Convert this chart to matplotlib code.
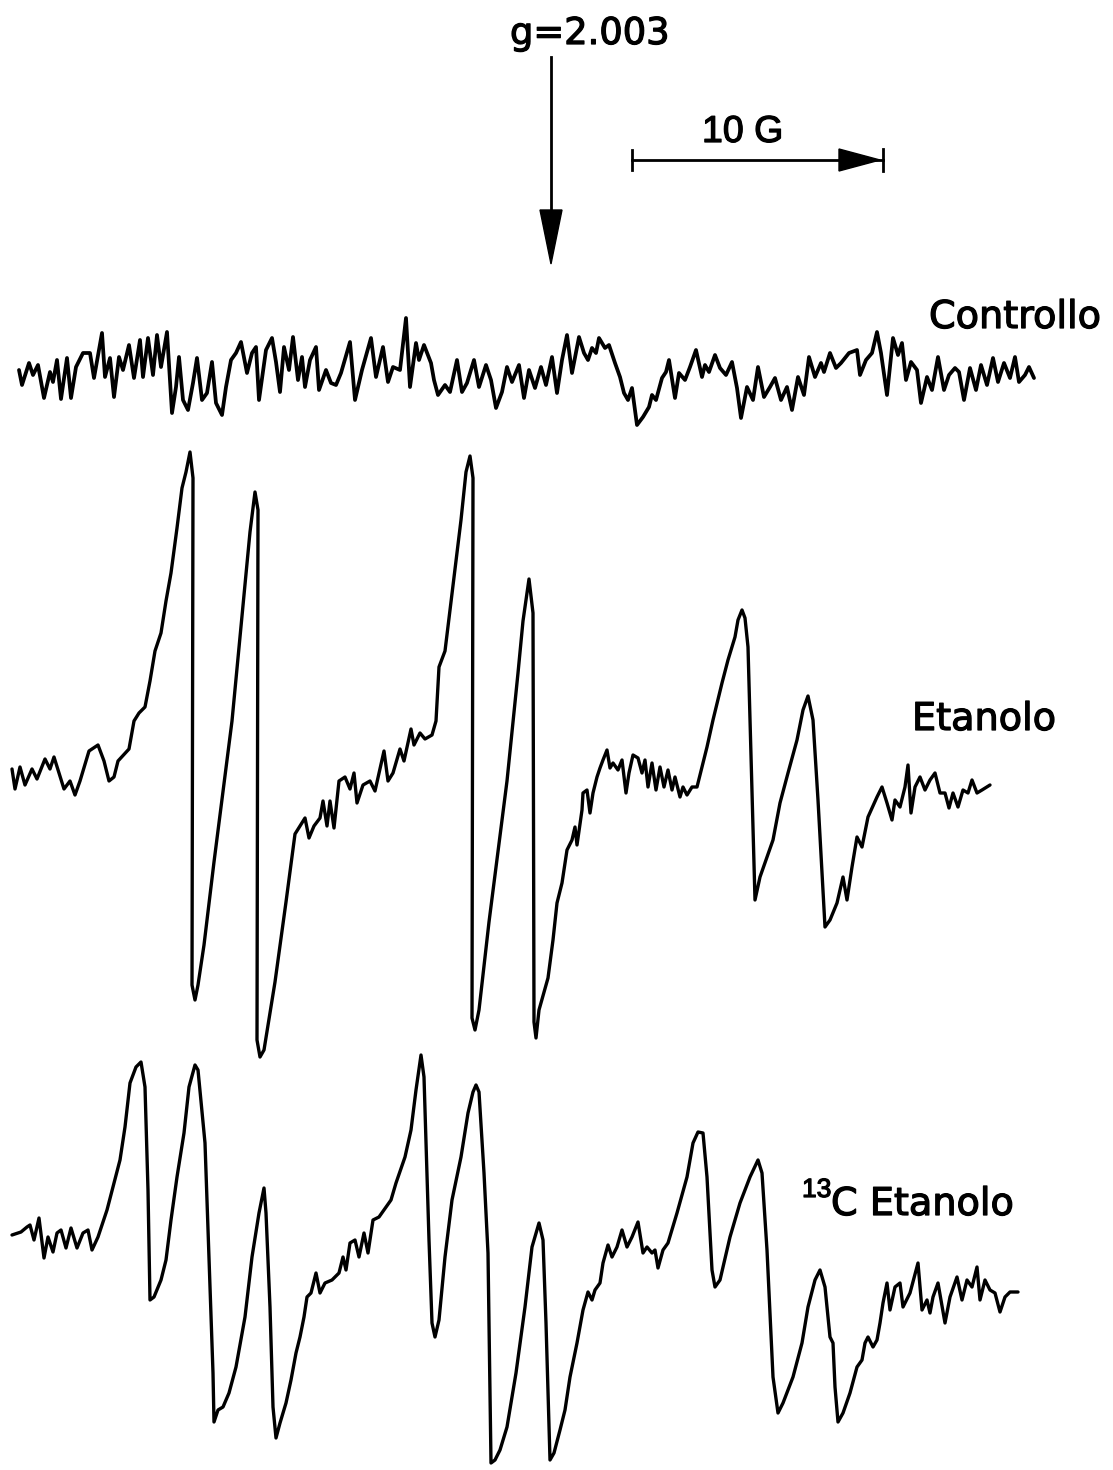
import matplotlib
matplotlib.use("Agg")
import matplotlib.pyplot as plt
import matplotlib.patheffects as pe

# spettri EPR: posizione di campo (px) e segnale (px, verso il basso)
ctrl_x = [19, 22, 29, 33, 38, 44, 50, 53, 57, 61, 67, 71, 76, 83, 90, 94, 102, 105, 110, 114,
          119, 123, 129, 134, 140, 143, 148, 153, 157, 161, 167, 172, 176, 179, 183, 188, 193, 197,
          202, 207, 212, 216, 222, 226, 231, 236, 241, 247, 252, 256, 259, 266, 272, 276, 280, 284,
          289, 293, 298, 302, 305, 310, 316, 319, 326, 331, 336, 341, 350, 355, 362, 371, 376, 383,
          388, 393, 400, 406, 410, 416, 419, 424, 431, 434, 438, 445, 450, 457, 462, 467, 474, 479,
          486, 491, 496, 502, 507, 512, 519, 524,
          529, 535, 541, 546, 552, 557, 562, 567, 572, 579, 584, 588, 592, 596, 599, 605, 609, 615,
          620, 624, 628, 632, 637, 643, 649, 652, 656, 662, 666, 669, 675, 679, 685, 690, 696, 702,
          705, 709, 715, 720, 726, 732, 737, 741, 747, 753, 758, 764, 770, 775, 781, 787, 792, 798,
          804, 809, 815, 821, 824, 830, 836, 841, 849, 857, 860, 866, 872, 877, 881, 887, 893, 898,
          902, 906, 911, 917, 921, 927, 932, 938, 944, 949, 955, 959, 964, 970, 976, 981, 987, 993,
          998, 1004, 1010, 1015, 1019, 1025, 1029, 1034]
ctrl_y = [370, 385, 363, 375, 365, 398, 372, 382, 360, 399, 358, 398, 367, 353, 353, 378, 333, 377, 358, 397,
          357, 370, 345, 378, 340, 377, 338, 375, 335, 367, 332, 413, 387, 357, 400, 410, 383, 358,
          400, 393, 362, 403, 415, 387, 360, 353, 342, 373, 353, 347, 400, 350, 338, 362, 392, 347,
          370, 337, 380, 357, 387, 360, 347, 390, 370, 383, 385, 373, 342, 400, 370, 338, 377, 347,
          382, 367, 370, 318, 387, 343, 360, 345, 363, 380, 395, 385, 392, 360, 392, 383, 360, 387,
          365, 380, 408, 392, 367, 382, 365, 398,
          370, 388, 367, 385, 357, 393, 360, 335, 373, 337, 353, 360, 348, 353, 338, 348, 345, 363,
          377, 393, 400, 388, 425, 417, 407, 395, 400, 378, 372, 360, 398, 373, 380, 367, 350, 377,
          365, 372, 355, 368, 375, 362, 388, 418, 387, 400, 367, 397, 387, 378, 400, 387, 410, 377,
          395, 357, 377, 363, 372, 353, 368, 363, 353, 350, 375, 360, 353, 332, 353, 395, 338, 355,
          343, 380, 362, 370, 403, 377, 390, 357, 390, 375, 368, 372, 400, 368, 390, 365, 385, 358,
          382, 363, 378, 357, 382, 375, 367, 378]

eta_x = [12, 15, 20, 25, 32, 37, 45, 50, 54, 59, 64, 70, 75, 80, 89, 98, 104, 109, 114, 118,
         129, 134, 139, 145, 150, 155, 161, 166, 171, 177, 182, 186, 190, 193, 192, 195, 198, 204,
         214, 232, 250, 255, 258, 257, 260, 264, 275, 286, 295, 300, 305, 309, 314, 320, 323, 327,
         330, 334, 339, 345, 350, 354, 357, 363, 370, 375, 384, 388, 393, 400, 404, 411, 414, 420,
         425, 432, 436, 439, 445, 454, 461, 466, 470, 473, 472, 475, 479, 489, 507, 518, 523, 529,
         533, 534, 536, 539, 548, 553, 557, 562, 567, 572, 575, 577, 582, 583, 587, 590, 593, 597,
         600, 603, 607, 610, 613, 618, 622, 626, 629, 633, 638, 642, 645, 648, 652, 656, 660, 664,
         668, 672, 675, 680, 683, 687, 692, 697, 702, 707, 713, 722, 728, 735, 738, 742, 745, 748,
         752, 755, 760, 767, 773, 780, 788, 797, 803, 808, 813, 818, 825, 830, 837, 843, 847, 852,
         857, 862, 868, 877, 882, 887, 892, 895, 900, 905, 908, 911, 915, 920, 925, 930, 935, 940,
         945, 949, 953, 958, 963, 968, 972, 977, 982, 990]
eta_y = [769, 789, 767, 785, 769, 779, 759, 769, 757, 773, 789, 781, 795, 781, 751, 745, 761, 781, 777, 761,
         749, 721, 713, 707, 681, 651, 633, 601, 573, 528, 488, 472, 452, 478, 985, 1000, 985, 945,
         862, 721, 532, 492, 510, 1040, 1057, 1050, 982, 902, 834, 826, 818, 838, 826, 818, 801, 826,
         801, 828, 781, 777, 789, 773, 803, 785, 781, 791, 751, 781, 773, 749, 761, 729, 745, 733,
         739, 735, 721, 667, 651, 577, 520, 472, 456, 478, 1018, 1030, 1010, 922, 781, 673, 621, 579,
         613, 1022, 1038, 1010, 978, 940, 903, 883, 850, 840, 827, 845, 810, 793, 790, 813, 793, 777,
         768, 760, 750, 768, 763, 770, 760, 793, 773, 755, 758, 773, 760, 787, 763, 790, 767, 787,
         770, 790, 777, 797, 787, 795, 787, 787, 767, 747, 720, 683, 660, 637, 620, 610, 618, 647,
         793, 900, 877, 857, 840, 803, 773, 740, 710, 696, 720, 800, 927, 920, 903, 877, 900, 867,
         837, 847, 817, 797, 787, 803, 820, 800, 807, 787, 765, 813, 787, 777, 790, 780, 773, 793,
         793, 808, 793, 807, 790, 793, 780, 793, 790, 785]

c13_x = [12, 21, 27, 30, 34, 39, 44, 48, 53, 57, 61, 66, 71, 77, 83, 88, 92, 98, 107, 114,
         120, 125, 130, 136, 141, 145, 148, 150, 154, 161, 166, 171, 177, 184, 189, 195, 198, 205,
         209, 213, 214, 218, 223, 229, 236, 245, 252, 259, 264, 266, 270, 273, 276, 280, 286, 291,
         296, 300, 304, 307, 311, 316, 320, 325, 332, 339, 343, 346, 350, 355, 359, 364, 368, 373,
         379, 386, 391, 396, 405, 411, 416, 421, 424, 429, 432, 435, 439, 445, 452, 461, 468, 473,
         476, 479, 484, 488, 491, 495, 500, 507, 516, 525, 532, 539, 543, 546, 550, 554, 560, 565, 570,
         577, 583, 588, 592, 595, 600, 603, 608, 612, 617, 622, 627, 632, 638, 643, 647, 652, 655,
         658, 663, 668, 677, 687, 693, 698, 703, 707, 712, 715, 720, 730, 740, 750, 758, 762, 767,
         773, 778, 783, 793, 802, 808, 815, 820, 825, 830, 833, 835, 838, 843, 850, 857, 862, 865,
         868, 873, 877, 880, 883, 887, 890, 895, 900, 903, 910, 918, 922, 927, 930, 933, 938, 945,
         950, 957, 962, 967, 972, 977, 980, 985, 990, 995, 1000, 1005, 1010, 1018]
c13_y = [1235, 1232, 1227, 1225, 1240, 1218, 1258, 1237, 1252, 1233, 1230, 1248, 1228, 1248, 1233, 1230, 1250, 1237, 1210, 1183,
         1160, 1127, 1083, 1067, 1062, 1087, 1190, 1300, 1297, 1280, 1260, 1220, 1177, 1133, 1087, 1065, 1070, 1143,
         1257, 1373, 1422, 1410, 1407, 1393, 1367, 1317, 1257, 1213, 1188, 1213, 1307, 1407, 1438, 1423, 1403, 1380,
         1353, 1337, 1317, 1297, 1293, 1273, 1293, 1283, 1280, 1273, 1257, 1270, 1243, 1240, 1257, 1233, 1253, 1220,
         1217, 1207, 1200, 1183, 1157, 1130, 1090, 1055, 1077, 1240, 1323, 1337, 1320, 1257, 1200, 1157, 1113, 1092,
         1085, 1092, 1173, 1253, 1463, 1460, 1450, 1427, 1373, 1307, 1247, 1223, 1240, 1323, 1460, 1453, 1430, 1410, 1377,
         1343, 1310, 1292, 1300, 1290, 1283, 1263, 1245, 1257, 1247, 1230, 1247, 1237, 1222, 1253, 1247, 1253, 1250,
         1268, 1250, 1243, 1213, 1177, 1143, 1132, 1133, 1177, 1270, 1287, 1280, 1237, 1203, 1177, 1160, 1173, 1250,
         1377, 1413, 1403, 1377, 1343, 1307, 1280, 1270, 1287, 1337, 1343, 1387, 1422, 1413, 1393, 1367, 1360, 1343,
         1337, 1347, 1340, 1323, 1303, 1283, 1310, 1287, 1283, 1307, 1293, 1263, 1310, 1300, 1313, 1297, 1283, 1323,
         1297, 1277, 1300, 1280, 1287, 1267, 1300, 1280, 1290, 1293, 1312, 1297, 1292, 1292]

labels = ["Controllo", "Etanolo", "C Etanolo"]
g_pos = 551          # posizione di g = 2.003
bar_start, bar_end = 632, 883   # barra di 10 G

plt.rcParams['font.family'] = ['DejaVu Sans']

fig = plt.figure(figsize=(11.13, 14.7), dpi=100)
ax = fig.add_axes([0, 0, 1, 1])
ax.set_xlim(0, 1113)
ax.set_ylim(1470, 0)
ax.axis('off')

trace_kw = dict(color='black', solid_joinstyle='round', solid_capstyle='round')
ax.plot(ctrl_x, ctrl_y, lw=2.7, **trace_kw)
ax.plot(eta_x, eta_y, lw=2.4, **trace_kw)
ax.plot(c13_x, c13_y, lw=2.4, **trace_kw)

# testo un po' piu' spesso, come nell'originale
thick = [pe.withStroke(linewidth=0.9, foreground='black')]

# freccia g
ax.plot([g_pos, g_pos], [57, 215], color='black', lw=2.0)
ax.fill([g_pos - 11, g_pos + 11, g_pos], [210, 210, 264], color='black')
ax.text(g_pos - 41, 44, "g=2.003", fontsize=26.5, va='baseline', ha='left', path_effects=thick)

# barra di scala
ax.plot([bar_start, bar_end], [160, 160], color='black', lw=2.0)
ax.plot([bar_start, bar_start], [150, 170], color='black', lw=2.0)
ax.plot([bar_end, bar_end], [149, 171], color='black', lw=2.0)
ax.fill([bar_end - 44, bar_end - 44, bar_end - 3], [149, 171, 160], color='black')
ax.text(702, 142, "10 G", fontsize=27, va='baseline', ha='left',
        family=['Liberation Sans', 'DejaVu Sans'], path_effects=thick)

ax.text(929, 328, labels[0], fontsize=27.5, va='baseline', ha='left', path_effects=thick)
ax.text(912, 730, labels[1], fontsize=27.5, va='baseline', ha='left', path_effects=thick)
ax.text(802, 1197, "13", fontsize=19, va='baseline', ha='left',
        family=['Liberation Sans', 'DejaVu Sans'], path_effects=thick)
ax.text(831, 1215, labels[2], fontsize=27.5, va='baseline', ha='left', path_effects=thick)

fig.savefig('out.png', dpi=100)
